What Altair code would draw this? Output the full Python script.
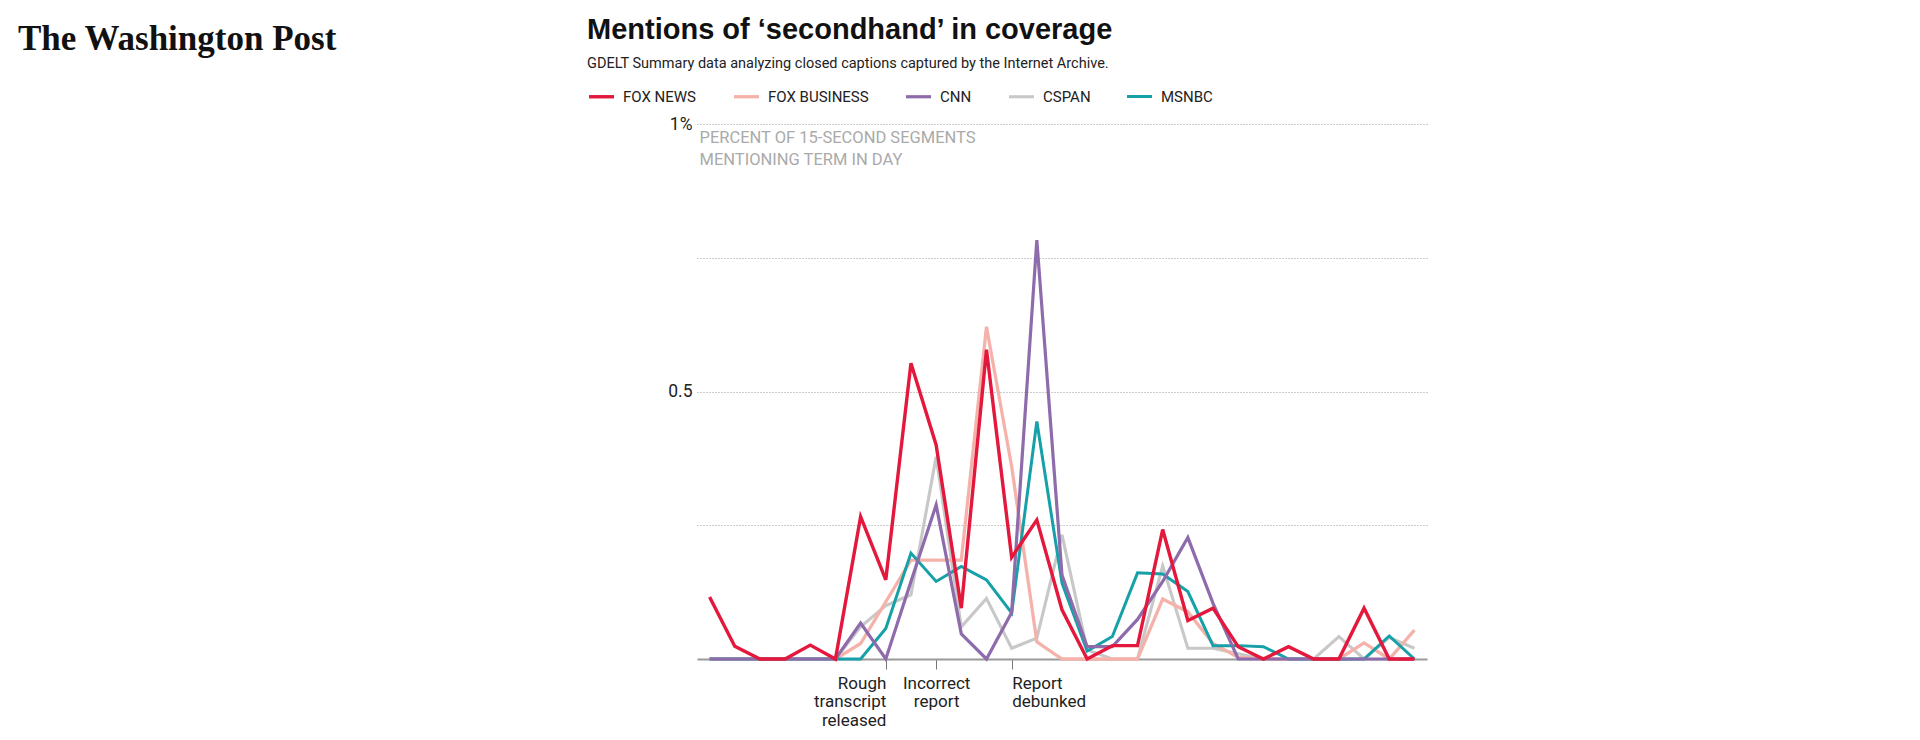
import altair as alt
import pandas as pd

# ---------------- data ----------------
DATES = [
    "2019-09-18", "2019-09-19", "2019-09-20", "2019-09-21", "2019-09-22",
    "2019-09-23", "2019-09-24", "2019-09-25", "2019-09-26", "2019-09-27",
    "2019-09-28", "2019-09-29", "2019-09-30", "2019-10-01", "2019-10-02",
    "2019-10-03", "2019-10-04", "2019-10-05", "2019-10-06", "2019-10-07",
    "2019-10-08", "2019-10-09", "2019-10-10", "2019-10-11", "2019-10-12",
    "2019-10-13", "2019-10-14", "2019-10-15", "2019-10-16",
]

FOX_NEWS = [0.116, 0.024, 0, 0, 0.026, 0, 0.266, 0.148, 0.553, 0.40, 0.095,
            0.578, 0.19, 0.26, 0.092, 0, 0.025, 0.025, 0.242, 0.072, 0.095,
            0.023, 0, 0.023, 0, 0, 0.095, 0, 0]
FOX_BUSINESS = [0, 0, 0, 0, 0, 0, 0.029, 0.107, 0.185, 0.185, 0.185,
                0.621, 0.36, 0.032, 0, 0, 0, 0, 0.112, 0.088, 0.029,
                0.003, 0, 0, 0, 0, 0.03, 0, 0.054]
CNN = [0, 0, 0, 0, 0, 0, 0.067, 0, 0.145, 0.288, 0.047,
       0, 0.087, 0.783, 0.157, 0.023, 0.023, 0.074, 0.145, 0.227, 0.104,
       0, 0, 0, 0, 0, 0, 0, 0]
CSPAN = [0, 0, 0, 0, 0, 0, 0.06, 0.10, 0.12, 0.378, 0.06,
         0.113, 0.02, 0.039, 0.232, 0.017, 0, 0, 0.174, 0.02, 0.02,
         0.01, 0, 0, 0, 0.042, 0, 0.04, 0.02]
MSNBC = [0, 0, 0, 0, 0, 0, 0, 0.057, 0.198, 0.145, 0.173,
         0.148, 0.086, 0.444, 0.142, 0.015, 0.042, 0.161, 0.159, 0.126, 0.025,
         0.025, 0.023, 0, 0, 0, 0, 0.043, 0]

SERIES = ["FOX NEWS", "FOX BUSINESS", "CNN", "CSPAN", "MSNBC"]
COLORS = ["#e3183c", "#f5b2aa", "#8e6bab", "#c8c8c8", "#16a0a8"]
WIDTHS = [3.4, 3.0, 3.0, 3.0, 3.0]
DRAW_ORDER = ["CSPAN", "FOX BUSINESS", "MSNBC", "CNN", "FOX NEWS"]
VALUES = {"FOX NEWS": FOX_NEWS, "FOX BUSINESS": FOX_BUSINESS, "CNN": CNN,
          "CSPAN": CSPAN, "MSNBC": MSNBC}

TICK_DATES = ["2019-09-25", "2019-09-27", "2019-09-30"]
TICK_LABELS = [["Rough", "transcript", "released"], ["Incorrect", "report"],
               ["Report", "debunked"]]
Y_GRID = [0.25, 0.5, 0.75, 1]

TITLE = "Mentions of \u2018secondhand\u2019 in coverage"
SUBTITLE = "GDELT Summary data analyzing closed captions captured by the Internet Archive."
Y_TITLE = ["PERCENT OF 15-SECOND SEGMENTS", "MENTIONING TERM IN DAY"]
LOGO = "The Washington Post"

rows = []
for s in SERIES:
    for d, v in zip(DATES, VALUES[s]):
        rows.append({"date": d, "series": s, "value": v})
df = pd.DataFrame(rows)

# ---------------- axes ----------------
def arr(lines):
    return "[" + ",".join("'" + l + "'" for l in lines) + "]"

label_expr = (
    f"datum.value == '{TICK_DATES[0]}' ? {arr(TICK_LABELS[0])} : "
    f"datum.value == '{TICK_DATES[1]}' ? {arr(TICK_LABELS[1])} : "
    f"{arr(TICK_LABELS[2])}"
)

x_axis = alt.Axis(
    values=TICK_DATES, labelExpr=label_expr, title=None, grid=False,
    domainColor="#9a9a9a", domainWidth=2, tickColor="#777", tickSize=10,
    tickWidth=1, labelFont="Roboto", labelFontSize=17, labelColor="#222",
    labelAngle=0, labelPadding=6, labelLineHeight=18.5, labelBaseline="top",
    labelAlign={"condition": [
        {"test": f"datum.value == '{TICK_DATES[0]}'", "value": "right"},
        {"test": f"datum.value == '{TICK_DATES[2]}'", "value": "left"}],
        "value": "center"},
    labelOverlap=False, labelBound=False, labelFlush=False,
)

y_axis = alt.Axis(
    values=Y_GRID,
    labelExpr="datum.value == 1 ? '1%' : datum.value == 0.5 ? '0.5' : ''",
    domain=False, ticks=False, grid=True, gridDash=[1, 2], gridColor="#999",
    gridWidth=1, labelFont="Roboto", labelFontSize=17.5, labelColor="#222",
    labelPadding=5, title=Y_TITLE, titleAngle=0, titleAlign="left",
    titleBaseline="top", titleX=2, titleY=5, titleFont="Roboto",
    titleFontSize=16.5, titleFontWeight="normal", titleColor="#aaa",
    titleLineHeight=22,
)

legend = alt.Legend(
    orient="none", legendX=-110, legendY=-42, direction="horizontal",
    columns=5, title=None, symbolType="stroke", symbolStrokeWidth=3.3,
    symbolSize=625, labelFont="Roboto", labelFontSize=15, labelColor="#222",
    labelOffset=7, columnPadding=30, padding=0,
)

base = alt.Chart(df).mark_line().encode(
    x=alt.X("date:O", scale=alt.Scale(type="point", padding=0.5), axis=x_axis),
    y=alt.Y("value:Q", scale=alt.Scale(domain=[0, 1]), axis=y_axis),
    color=alt.Color("series:N", scale=alt.Scale(domain=SERIES, range=COLORS),
                    legend=legend),
    strokeWidth=alt.StrokeWidth("series:N",
                                scale=alt.Scale(domain=SERIES, range=WIDTHS),
                                legend=None),
)

layers = [base.transform_filter(alt.datum.series == s) for s in DRAW_ORDER]

logo = alt.Chart(pd.DataFrame({"t": [LOGO]})).mark_text(
    align="left", baseline="alphabetic", font="Liberation Serif",
    fontWeight="bold", fontSize=35, color="#111",
).encode(text="t:N", x=alt.value(-679), y=alt.value(-74))

chart = alt.layer(*layers, logo).properties(
    width=730, height=535,
    autosize=alt.AutoSizeParams(type="none"),
    padding={"left": 689, "top": 116, "right": 20, "bottom": 70},
    title=alt.TitleParams(
        text=TITLE, subtitle=SUBTITLE, anchor="start", frame="group", dx=-110,
        dy=60, font="Liberation Sans", fontSize=29, fontWeight="bold",
        color="#111", subtitleFont="Roboto", subtitleFontSize=14.5,
        subtitleColor="#222", subtitlePadding=12, offset=12,
    ),
).configure_view(stroke=None)

chart.save("out.html", embed_options={"renderer": "svg", "actions": False})
